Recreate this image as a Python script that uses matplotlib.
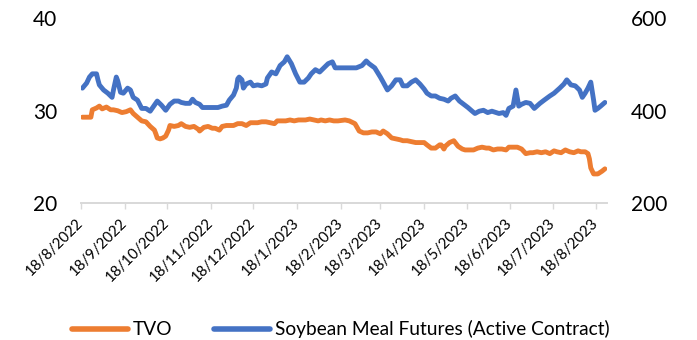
import pandas as pd
import numpy as np
import matplotlib
matplotlib.use("Agg")
import matplotlib.pyplot as plt
from matplotlib.lines import Line2D

plt.rcParams['font.family'] = ['Lato', 'DejaVu Sans']

# dates are stored as day offsets from the first trading day on the chart
start = pd.Timestamp('2022-08-18')

# TVO price (left axis)
tvo_days = [1, 5, 7, 8, 11, 13, 15, 18, 21, 23, 26, 29, 32, 35, 37, 40, 43, 46, 49, 52,
            53, 54, 56, 58, 60, 62, 63, 66, 69, 71, 74, 77, 80, 83, 84, 87, 90, 93, 95, 98,
            100, 103, 105, 108, 111, 114, 117, 120, 122, 125, 128, 131, 134, 137, 139, 142,
            145, 148, 151, 154, 156, 159, 162, 165, 168, 170, 173, 176, 179, 182, 187, 190,
            194, 197, 200, 203, 206, 209, 212, 214, 217, 220, 223, 226, 228, 231, 234, 237,
            240, 243, 245, 248, 251, 254, 255, 257, 258, 261, 264, 267, 270, 272, 275, 278,
            281, 284, 287, 289, 292, 295, 298, 301, 303, 306, 309, 312, 315, 318, 320, 323,
            326, 329, 332, 335, 337, 340, 343, 346, 349, 352, 354, 357, 359, 360, 361, 363,
            366, 369, 371]
tvo_vals = [29.3, 29.3, 29.3, 30.1, 30.3, 30.5, 30.2, 30.4, 30.1, 30.1, 30.0, 29.8, 29.9,
            30.1, 29.7, 29.3, 28.9, 28.8, 28.3, 27.9, 27.5, 27.05, 26.95, 27.05, 27.25, 27.9,
            28.4, 28.3, 28.4, 28.6, 28.3, 28.2, 28.3, 28.0, 27.8, 28.2, 28.3, 28.1, 28.1, 27.9,
            28.3, 28.4, 28.4, 28.4, 28.6, 28.6, 28.4, 28.7, 28.7, 28.7, 28.8, 28.8, 28.7, 28.6,
            28.9, 28.9, 28.9, 29.0, 28.9, 29.0, 29.0, 29.0, 29.1, 29.0, 28.9, 29.0, 28.9, 29.0,
            28.9, 28.9, 29.0, 28.9, 28.6, 27.8, 27.6, 27.6, 27.7, 27.7, 27.5, 27.8, 27.5, 27.05,
            26.95, 26.85, 26.75, 26.75, 26.65, 26.55, 26.55, 26.55, 26.3, 25.95, 25.95, 26.3,
            26.3, 25.85, 26.15, 26.55, 26.75, 26.15, 25.85, 25.75, 25.75, 25.75, 25.95, 26.05,
            25.95, 25.95, 25.75, 25.85, 25.85, 25.75, 26.05, 26.05, 26.05, 25.85, 25.35, 25.45,
            25.45, 25.55, 25.45, 25.55, 25.35, 25.65, 25.55, 25.45, 25.75, 25.55, 25.45, 25.65,
            25.55, 25.55, 25.35, 24.8, 23.8, 23.15, 23.15, 23.45, 23.7]

# soybean meal futures, active contract (right axis)
meal_days = [1, 4, 6, 8, 11, 12, 13, 16, 19, 22, 23, 25, 26, 28, 30, 33, 35, 37, 40, 43,
             46, 49, 52, 54, 57, 60, 63, 66, 69, 71, 74, 77, 79, 81, 84, 86, 88, 91, 94, 97,
             100, 103, 105, 108, 110, 111, 112, 114, 115, 117, 120, 122, 125, 128, 131, 132,
             135, 138, 141, 144, 146, 149, 152, 155, 158, 161, 163, 166, 169, 172, 175, 178,
             180, 183, 190, 195, 199, 202, 204, 208, 212, 214, 217, 220, 223, 226, 228, 231,
             234, 237, 240, 243, 245, 248, 251, 254, 257, 260, 262, 265, 268, 271, 274, 277,
             279, 282, 285, 288, 291, 294, 296, 299, 301, 303, 306, 308, 310, 312, 315, 318,
             321, 325, 328, 332, 335, 339, 342, 344, 347, 350, 353, 355, 357, 359, 361, 363,
             364, 366, 368, 371]
meal_vals = [449, 460, 473, 480, 480, 467, 456, 445, 438, 429, 445, 473, 465, 440, 438, 449,
             445, 429, 423, 405, 405, 399, 412, 421, 412, 401, 414, 421, 421, 418, 416, 416,
             425, 418, 414, 407, 407, 407, 407, 407, 410, 412, 423, 434, 449, 469, 473, 467,
             449, 458, 462, 454, 456, 454, 458, 471, 484, 480, 498, 506, 517, 502, 480, 462,
             462, 471, 480, 489, 484, 493, 502, 506, 493, 493, 493, 493, 498, 508, 502, 493,
             473, 462, 445, 454, 467, 467, 454, 454, 462, 467, 458, 447, 438, 432, 432, 427,
             425, 421, 427, 432, 421, 414, 407, 399, 394, 399, 401, 396, 399, 396, 394, 396,
             390, 405, 410, 445, 410, 414, 418, 416, 405, 416, 423, 432, 438, 449, 458, 467,
             456, 454, 445, 429, 438, 449, 462, 423, 401, 405, 410, 418]

tick_dates = ['2022-08-18', '2022-09-18', '2022-10-18', '2022-11-18', '2022-12-18',
              '2023-01-18', '2023-02-18', '2023-03-18', '2023-04-18', '2023-05-18',
              '2023-06-18', '2023-07-18', '2023-08-18']
tick_labels = ['18/8/2022', '18/9/2022', '18/10/2022', '18/11/2022', '18/12/2022',
               '18/1/2023', '18/2/2023', '18/3/2023', '18/4/2023', '18/5/2023',
               '18/6/2023', '18/7/2023', '18/8/2023']

orange = '#ED7D31'
blue = '#4472C4'
grey = '#D9D9D9'

tvo_x = start + pd.to_timedelta(tvo_days, unit='D')
meal_x = start + pd.to_timedelta(meal_days, unit='D')

fig = plt.figure(figsize=(6.97, 3.40), dpi=100)
ax = fig.add_axes([0.1162, 0.403, 0.7547, 0.5426])
ax2 = ax.twinx()

ax.plot(tvo_x, tvo_vals, '-', color=orange, lw=3.5, solid_joinstyle='round',
        solid_capstyle='round')
ax2.plot(meal_x, meal_vals, '-', color=blue, lw=3.5, solid_joinstyle='round',
         solid_capstyle='round')

ax.set_xlim(start, start + pd.Timedelta(days=372.5))
ax.set_ylim(20, 40)
ax.set_yticks([20, 30, 40])
ax2.set_ylim(200, 600)
ax2.set_yticks([200, 400, 600])

ax.set_xticks(pd.to_datetime(tick_dates))
ax.set_xticklabels(tick_labels, rotation=45, ha='right', va='center',
                   rotation_mode='anchor', fontsize=10.8)
ax.tick_params(axis='x', direction='out', length=4, width=1, color=grey, pad=9)
ax.tick_params(axis='y', length=0, labelsize=15, pad=17)
ax2.tick_params(axis='y', length=0, labelsize=15, pad=17)

for a in (ax, ax2):
    for s in ('top', 'left', 'right'):
        a.spines[s].set_visible(False)
    a.spines['bottom'].set_color(grey)
    a.spines['bottom'].set_linewidth(1.3)

handles = [Line2D([], [], color=orange, lw=4, solid_capstyle='round'),
           Line2D([], [], color=blue, lw=4, solid_capstyle='round')]
fig.legend(handles, ['TVO', 'Soybean Meal Futures (Active Contract)'],
           loc='lower center', bbox_to_anchor=(0.489, -0.046), ncol=2, frameon=False,
           fontsize=13.8, handlelength=2.9, handletextpad=0.25, columnspacing=2.2)

plt.savefig('out.png', dpi=100)
